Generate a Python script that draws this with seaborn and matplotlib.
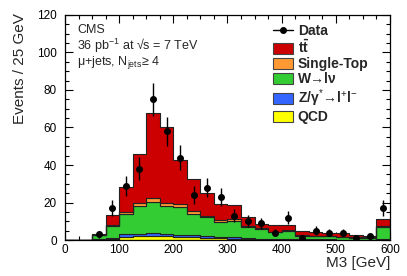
import matplotlib.pyplot as plt
import numpy as np
import pandas as pd
import seaborn as sns
from matplotlib.lines import Line2D
from matplotlib.patches import Patch
from matplotlib.ticker import MultipleLocator

# M3 bins of 25 GeV, from 50 to 600 GeV (bin centres)
m3 = [62.5, 87.5, 112.5, 137.5, 162.5, 187.5, 212.5, 237.5, 262.5, 287.5, 312.5,
      337.5, 362.5, 387.5, 412.5, 437.5, 462.5, 487.5, 512.5, 537.5, 562.5, 587.5]

ttbar = [0.4, 5.3, 13.6, 25.8, 45.4, 40.5, 23.2, 17.0, 12.2, 8.8, 7.9,
         4.5, 2.3, 3.7, 2.7, 2.4, 2.2, 1.8, 1.9, 1.0, 0.8, 3.8]
single_top = [0.1, 0.4, 1.2, 1.9, 2.1, 1.8, 1.8, 1.4, 0.9, 1.1, 1.0,
              0.6, 0.4, 0.4, 0.3, 0.3, 0.3, 0.2, 0.2, 0.2, 0.1, 0.6]
wjets = [2.2, 6.6, 10.5, 14.6, 16.5, 14.6, 14.7, 11.2, 9.9, 7.6, 8.6,
         6.0, 5.1, 3.5, 4.4, 1.9, 1.6, 1.7, 1.2, 1.1, 1.1, 6.2]
zjets = [0.1, 0.4, 1.4, 1.5, 1.8, 1.5, 1.2, 1.3, 1.0, 0.8, 0.6,
         0.5, 0.4, 0.3, 0.3, 0.2, 0.2, 0.2, 0.1, 0.1, 0.1, 0.3]
qcd = [0.2, 0.5, 1.8, 1.9, 2.0, 1.9, 1.6, 1.4, 1.2, 1.0, 0.8,
       0.5, 0.4, 0.3, 0.3, 0.2, 0.2, 0.1, 0.1, 0.1, 0.1, 0.3]
data = [3, 17, 29, 38, 75, 58, 44, 24, 28, 23, 13,
        10, 9, 4, 12, 1, 5, 4, 4, 1, 2, 17]

labels = [r'$\mathbf{t\bar{t}}$', 'Single-Top', 'W→lν',
          'Z/γ$^{*}$→l$^{+}$l$^{-}$', 'QCD']
names = ['ttbar', 'single top', 'W', 'Z', 'QCD']
colors = ['#cc0000', '#ff9933', '#33cc33', '#3366ff', '#ffff00']

sns.set_style('ticks')
plt.rcParams['font.family'] = ['Liberation Sans', 'DejaVu Sans']
plt.rcParams['mathtext.fontset'] = 'custom'
plt.rcParams['mathtext.rm'] = 'Liberation Sans'
plt.rcParams['mathtext.it'] = 'Liberation Sans:italic'
plt.rcParams['mathtext.bf'] = 'Liberation Sans:bold'


def main():
    frames = []
    for name, vals in zip(names, [ttbar, single_top, wjets, zjets, qcd]):
        frames.append(pd.DataFrame({'M3': m3, 'events': vals, 'process': name}))
    df = pd.concat(frames, ignore_index=True)

    fig = plt.figure(figsize=(4.07, 2.76), dpi=100)
    ax = fig.add_axes([0.1597, 0.1304, 0.7985, 0.8153])

    # first hue level ends up on top of the stack
    sns.histplot(data=df, x='M3', weights='events', hue='process', hue_order=names,
                 palette=dict(zip(names, colors)), multiple='stack', element='step',
                 fill=True, binwidth=25, binrange=(0, 600), alpha=1,
                 edgecolor='#222222', linewidth=0.8, legend=False, ax=ax)

    ax.errorbar(m3, data, yerr=np.sqrt(data), fmt='o', color='black', ms=4,
                elinewidth=1, capsize=0, zorder=5)

    ax.set_xlim(0, 600)
    ax.set_ylim(0, 120)
    ax.set_xlabel('')
    ax.set_ylabel('')
    ax.xaxis.set_major_locator(MultipleLocator(100))
    ax.xaxis.set_minor_locator(MultipleLocator(25))
    ax.yaxis.set_major_locator(MultipleLocator(20))
    ax.yaxis.set_minor_locator(MultipleLocator(5))
    ax.tick_params(which='both', direction='in', top=True, right=True,
                   labelsize=8.5, width=0.8, colors='black')
    ax.tick_params(which='major', length=6)
    ax.tick_params(which='minor', length=3)
    ax.tick_params(axis='x', pad=3)
    ax.tick_params(axis='y', pad=6)
    for sp in ax.spines.values():
        sp.set_linewidth(0.9)
        sp.set_color('black')

    fig.text(0.049, 0.952, 'Events / 25 GeV', rotation=90, ha='center', va='top',
             fontsize=11)
    fig.text(0.958, 0.048, 'M3 [GeV]', ha='right', va='center', fontsize=11)

    ax.text(0.037, 0.96, 'CMS', transform=ax.transAxes, fontsize=9, va='top')
    ax.text(0.037, 0.905, '36 pb$^{-1}$ at √s = 7 TeV', transform=ax.transAxes,
            fontsize=9, va='top')
    ax.text(0.037, 0.825, 'μ+jets, N$_{\\mathrm{jets}}$≥ 4',
            transform=ax.transAxes, fontsize=9, va='top')

    handles = [Line2D([0], [0], color='black', marker='o', ms=4, lw=1)]
    for c in colors:
        handles.append(Patch(facecolor=c, edgecolor='#444444', linewidth=0.8))
    ax.legend(handles, ['Data'] + labels, loc='upper left',
              bbox_to_anchor=(0.639, 0.96), frameon=False,
              prop={'weight': 'bold', 'size': 10}, handlelength=1.45,
              handleheight=0.8, labelspacing=0.08, handletextpad=0.35,
              borderaxespad=0, borderpad=0)

    plt.savefig('out.png', dpi=100)


if __name__ == '__main__':
    main()
